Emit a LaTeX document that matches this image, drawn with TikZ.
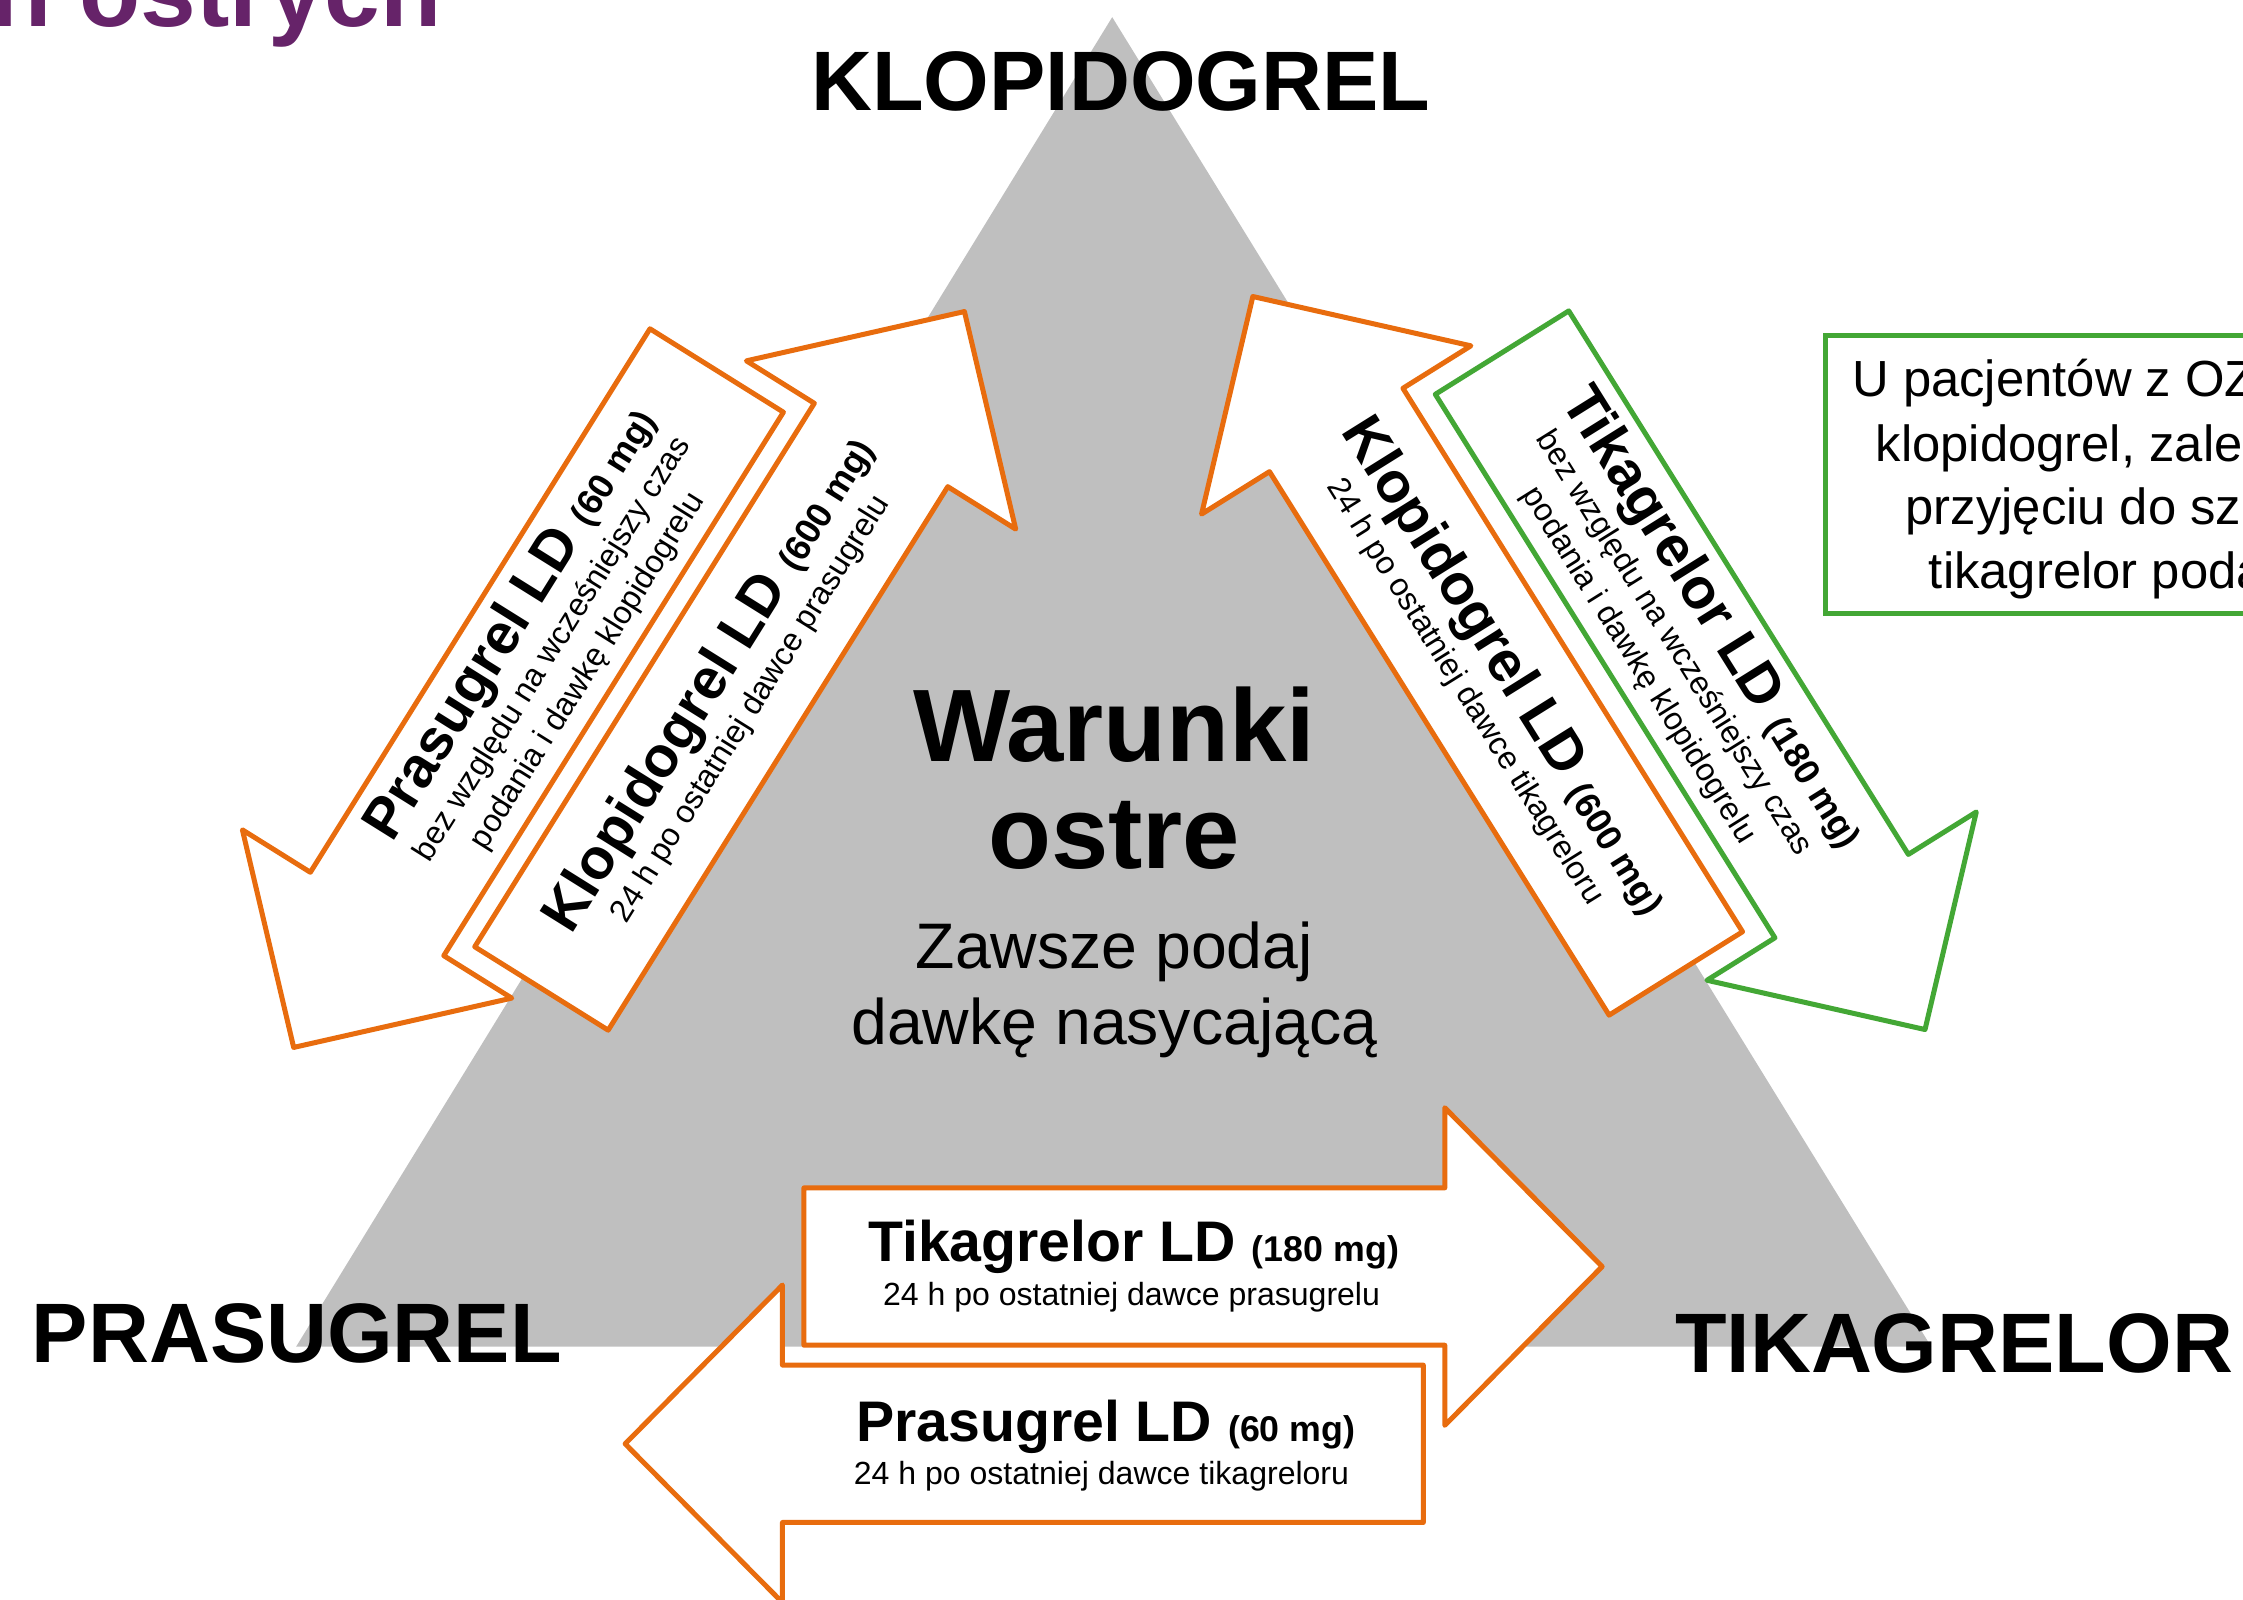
\documentclass[tikz,border=0pt]{standalone}
\usepackage{fontspec}
\setmainfont{Liberation Sans}
\definecolor{triGray}{RGB}{191,191,191}
\definecolor{arrOrange}{RGB}{232,108,14}
\definecolor{arrGreen}{RGB}{67,167,53}
\definecolor{titlePurple}{RGB}{102,35,105}
\newcommand\dosefont[1]{{\fontsize{12.5}{15}\selectfont #1}}
\tikzset{
  pics/drugarrow/.style={code={
    \path[pic actions] (0,-55) -- (448,-55) -- (448,-111) -- (558,0) -- (448,111) -- (448,55) -- (0,55) -- cycle;}},
  orangeline/.style={draw=arrOrange, fill=white, line width=1.75pt, line join=round},
  greenline/.style={draw=arrGreen, fill=white, line width=1.75pt, line join=round},
  bigtxt/.style={inner sep=0pt, anchor=base, font=\bfseries\fontsize{20}{24}\selectfont},
  subtxt/.style={inner sep=0pt, anchor=base, font=\fontsize{11.2}{13}\selectfont},
  cornertxt/.style={inner sep=0pt, anchor=base, font=\bfseries\fontsize{29.5}{34}\selectfont},
  centertxt/.style={inner sep=0pt, anchor=base, font=\bfseries\fontsize{36}{40}\selectfont},
  centersub/.style={inner sep=0pt, anchor=base, font=\fontsize{22.5}{27}\selectfont},
  boxtxt/.style={inner sep=0pt, anchor=base west, font=\fontsize{17.75}{21}\selectfont},
  rotnodes/.style={every node/.append style={transform shape}}
}
\begin{document}
\begin{tikzpicture}[x=0.5pt, y=0.5pt]
\useasboundingbox (0,0) rectangle (1568,-1118);
\clip (0,0) rectangle (1568,-1118);

% title fragment
\node[anchor=base west, inner sep=0pt, text=titlePurple, font=\bfseries\fontsize{35}{40}\selectfont] (title) at (-6.8,-18.2) {h ostrych};

% triangle
\fill[triGray] (777.5,-12) -- (207,-941.4) -- (1350,-941.4) -- cycle;

% corner labels
\node[cornertxt] (klop) at (783.5,-76.9) {KLOPIDOGREL};
\node[cornertxt] (pras) at (207.5,-952.4) {PRASUGREL};
\node[cornertxt] (tika) at (1366,-959.3) {TIKAGRELOR};

% centre text
\node[centertxt] (war) at (779,-532.5) {Warunki};
\node[centertxt] (ost) at (779,-607) {ostre};
\node[centersub] (zaw) at (779,-677) {Zawsze podaj};
\node[centersub] (daw) at (779,-730.5) {dawkę nasycającą};

% arrows
\pic[orangeline, rotate=238] (arrA) at (501,-259) {drugarrow};
\pic[orangeline, rotate=58] (arrB) at (378.5,-691) {drugarrow};
\pic[orangeline, rotate=122] (arrC) at (1171.5,-680.5) {drugarrow};
\pic[greenline, rotate=-58] (arrD) at (1050,-246.5) {drugarrow};
\pic[orangeline] (arrE) at (562,-885.4) {drugarrow};
\pic[orangeline, rotate=180] (arrF) at (995,-1009.3) {drugarrow};

% arrow A text
\begin{scope}[shift={(382.3,-449)}, rotate=58, rotnodes]
  \node[bigtxt] (tA1) at (-2,17) {Prasugrel LD \dosefont{(60 mg)}};
  \node[subtxt] (tA2) at (-2,-12) {bez względu na wcześniejszy czas};
  \node[subtxt] (tA3) at (-2,-41) {podania i dawkę klopidogrelu};
\end{scope}
% arrow B text
\begin{scope}[shift={(497.2,-501)}, rotate=58, rotnodes]
  \node[bigtxt] (tB1) at (19,2) {Klopidogrel LD \dosefont{(600 mg)}};
  \node[subtxt] (tB2) at (19,-27) {24 h po ostatniej dawce prasugrelu};
\end{scope}
% arrow C text
\begin{scope}[shift={(1052.8,-490.5)}, rotate=-58, rotnodes]
  \node[bigtxt] (tC1) at (-21,2) {Klopidogrel LD \dosefont{(600 mg)}};
  \node[subtxt] (tC2) at (-21,-27) {24 h po ostatniej dawce tikagreloru};
\end{scope}
% arrow D text
\begin{scope}[shift={(1168.7,-436.5)}, rotate=-58, rotnodes]
  \node[bigtxt] (tD1) at (12,17) {Tikagrelor LD \dosefont{(180 mg)}};
  \node[subtxt] (tD2) at (12,-12) {bez względu na wcześniejszy czas};
  \node[subtxt] (tD3) at (12,-41) {podania i dawkę klopidogrelu};
\end{scope}
% arrow E text
\node[bigtxt] (tE1) at (792.5,-882) {Tikagrelor LD \dosefont{(180 mg)}};
\node[subtxt] (tE2) at (791,-912.3) {24 h po ostatniej dawce prasugrelu};
% arrow F text
\node[bigtxt] (tF1) at (773,-1007.8) {Prasugrel LD \dosefont{(60 mg)}};
\node[subtxt] (tF2) at (770,-1037.6) {24 h po ostatniej dawce tikagreloru};

% green note box
\draw[draw=arrGreen, line width=1.75pt, fill=white] (1276,-234.2) rectangle (1620,-428.8);
\node[boxtxt] (g1) at (1294.5,-277.3) {U pacjentów z OZ};
\node[boxtxt] (g2) at (1310.8,-322.3) {klopidogrel, zale};
\node[boxtxt] (g3) at (1331.7,-366.8) {przyjęciu do sz};
\node[boxtxt] (g4) at (1348,-411.3) {tikagrelor poda};
\end{tikzpicture}
\end{document}
